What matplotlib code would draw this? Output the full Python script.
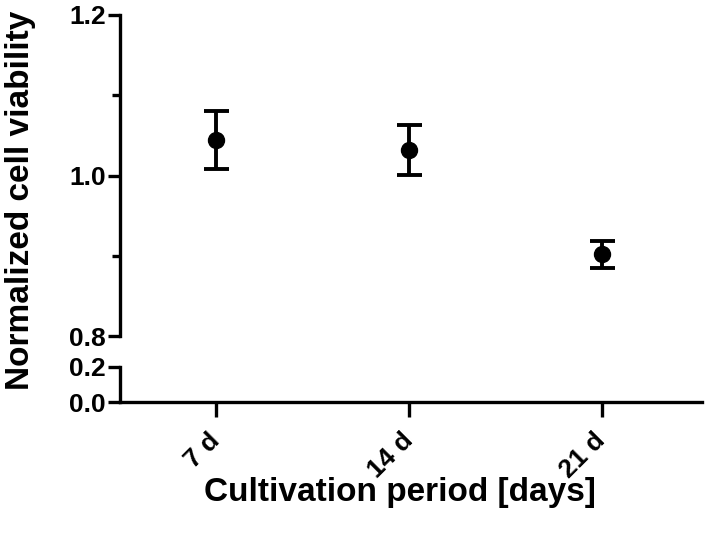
import matplotlib
matplotlib.use("Agg")
from matplotlib import pyplot as plt
import numpy as np

plt.rcParams['font.family'] = ['Liberation Sans', 'DejaVu Sans']
plt.rcParams['font.weight'] = 'bold'

categories = ['7 d', '14 d', '21 d']
viability = [1.044, 1.032, 0.902]
errors = [0.036, 0.031, 0.017]

W, H = 706, 543
fig = plt.figure(figsize=(W / 100, H / 100), dpi=100)

def box(x0, y0, x1, y1):
    # pixel box -> figure fraction
    return [x0 / W, 1 - y1 / H, (x1 - x0) / W, (y1 - y0) / H]

# broken y axis: two stacked axes sharing the x range
ax_top = fig.add_axes(box(120, 15, 702, 336))
ax_bot = fig.add_axes(box(120, 367, 702, 402))

x = np.arange(len(categories))
ax_top.errorbar(x, viability, yerr=errors, fmt='o', color='black', ms=11.5,
                elinewidth=2.8, capsize=9, capthick=2.8, clip_on=False)

for ax in (ax_top, ax_bot):
    ax.set_xlim(-0.5, 2.52)
    for s in ('top', 'right'):
        ax.spines[s].set_visible(False)
    ax.spines['left'].set_linewidth(2.4)
    ax.spines['bottom'].set_linewidth(2.4)
    ax.tick_params(width=2.4, length=9, labelsize=19, pad=1)
    ax.tick_params(which='minor', width=2.4, length=6)

ax_top.set_ylim(0.8, 1.2)
ax_top.set_yticks([0.8, 1.0, 1.2])
ax_top.set_yticks([0.9, 1.1], minor=True)
ax_top.spines['bottom'].set_visible(False)
ax_top.tick_params(axis='x', bottom=False, labelbottom=False)

ax_bot.set_ylim(0.0, 0.2)
ax_bot.set_yticks([0.0, 0.2])
ax_bot.set_xticks(x)
ax_bot.set_xticklabels(categories, rotation=45, ha='right', va='center',
                       rotation_mode='anchor')
ax_bot.tick_params(axis='x', length=11, pad=14)

for ax in (ax_top, ax_bot):
    ax.set_yticklabels([f'{v:.1f}' for v in ax.get_yticks()])

fig.text(21 / W, 1 - 200 / H, 'Normalized cell viability', rotation=90,
         ha='center', va='center', fontsize=24, fontweight='bold')
fig.text(400 / W, 1 - 492 / H, 'Cultivation period [days]',
         ha='center', va='center', fontsize=24, fontweight='bold')

fig.savefig('out.png', dpi=100)
